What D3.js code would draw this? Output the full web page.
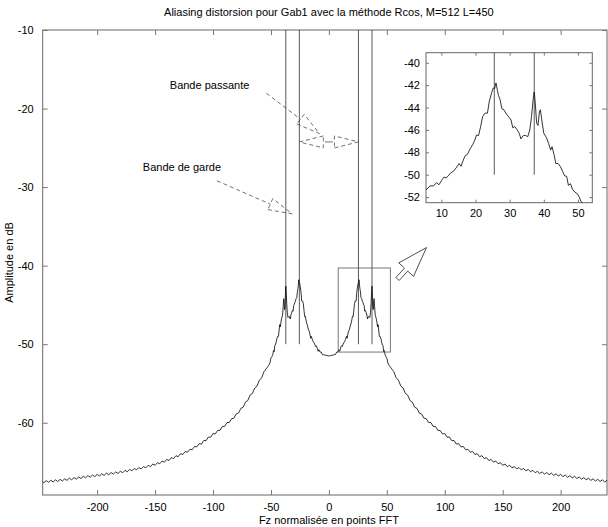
<!DOCTYPE html>
<html>
<head>
<meta charset="utf-8">
<script src="https://cdn.jsdelivr.net/npm/d3@7"></script>
<style>
  body { margin: 0; background: #fff; }
  text { font-family: "Liberation Sans", Arial, sans-serif; }
</style>
</head>
<body>
<svg id="chart" width="608" height="527"></svg>
<script>
// half spectrum (symmetric around 0), core region
let coreFz = [0, 1.5, 3, 4.5, 5.7, 6.7, 7.7, 8.6, 9.3, 10.1, 10.8, 11.4, 12.0, 12.7, 13.5, 14.3,
  15.2, 15.75, 16.4, 17.0, 17.6, 18.4, 19.2, 19.8, 20.3, 20.9, 21.5, 22.1, 22.8, 23.5, 24.0, 24.7,
  25.2, 25.6, 26.0, 26.4, 26.7, 27.2, 27.7, 28.3, 29.1, 29.9, 30.4, 30.9, 31.5, 32.2, 32.8, 33.3,
  34.0, 34.7, 35.3, 35.9, 36.4, 36.9, 37.2, 37.5, 37.9, 38.3, 38.7, 39.0, 39.4, 40.0, 40.8, 41.4,
  42.0, 42.4, 43.0, 43.5, 44.2, 44.9, 45.5, 46.1, 46.7, 47.2, 47.8, 48.4, 49.1, 49.8, 50.4, 50.9,
  52, 53.5, 55]
let coreDb = [-51.5, -51.45, -51.4, -51.35, -51.3, -51.0, -51.0, -50.7, -50.9, -50.5, -50.2, -50.3, -50.1, -49.85, -49.7, -49.4,
  -49.0, -49.25, -48.7, -48.3, -48.2, -47.7, -47.3, -46.9, -46.45, -46.5, -45.7, -44.8, -44.5, -44.5, -43.5, -42.7,
  -42.25, -42.3, -41.8, -42.45, -42.9, -43.3, -44.1, -44.2, -44.6, -44.9, -45.1, -45.8, -45.7, -46.0, -46.3, -46.8,
  -46.5, -46.5, -46.6, -46.0, -44.8, -43.2, -42.6, -43.6, -45.4, -45.6, -44.4, -44.2, -45.1, -46.3, -46.7, -47.2,
  -47.8, -47.5, -48.2, -49.0, -49.0, -49.3, -49.7, -50.1, -50.15, -50.95, -50.8, -51.3, -51.55, -51.7, -52.0, -52.4,
  -52.7, -53.0, -53.3]
// tail, every 2 bins from 56 to 248
let tailFz = d3.range(56, 249, 2)
let tailDb = [-53.48, -54.27, -54.58, -55.32, -55.58, -56.27, -56.48, -57.17, -57.38, -58.02,
  -58.18, -58.77, -58.88, -59.42, -59.48, -59.97, -59.98, -60.47, -60.48, -60.97,
  -60.98, -61.42, -61.38, -61.84, -61.82, -62.28, -62.26, -62.72, -62.66, -63.08,
  -63.02, -63.44, -63.38, -63.76, -63.66, -64.04, -63.94, -64.32, -64.20, -64.56,
  -64.44, -64.80, -64.68, -65.02, -64.88, -65.22, -65.08, -65.42, -65.26, -65.58,
  -65.42, -65.74, -65.58, -65.88, -65.70, -66.00, -65.82, -66.12, -65.94, -66.24,
  -66.06, -66.36, -66.18, -66.46, -66.26, -66.54, -66.34, -66.62, -66.42, -66.70,
  -66.50, -66.78, -66.58, -66.86, -66.66, -66.94, -66.74, -67.02, -66.82, -67.10,
  -66.90, -67.18, -66.98, -67.26, -67.06, -67.34, -67.14, -67.42, -67.21, -67.48,
  -67.27, -67.54, -67.33, -67.59, -67.37, -67.63, -67.41]

let bandLines = [25.5, 37.2]
let xTicks = [-200, -150, -100, -50, 0, 50, 100, 150, 200]
let yTicks = [-10, -20, -30, -40, -50, -60]
let insetXTicks = [10, 20, 30, 40, 50]
let insetYTicks = [-52, -50, -48, -46, -44, -42, -40]
let zoomBox = {x0: 8, x1: 53, y0: -51, y1: -40.3}

let title = "Aliasing distorsion pour Gab1 avec la méthode Rcos, M=512 L=450"
let xLabel = "Fz normalisée en points FFT"
let yLabel = "Amplitude en dB"

let notes = [
  {text: "Bande passante", x: -137.3, y: -17.5},
  {text: "Bande de garde", x: -160.6, y: -28.0}
]
let dashedArrows = [
  {from: [-54.0, -18.05], to: [-8.0, -23.2]},
  {from: [0, -24.25], to: [-25.5, -24.25]},
  {from: [0, -24.25], to: [25.5, -24.25]},
  {from: [-96.6, -29.2], to: [-31.6, -33.4]}
]
let bigArrow = {from: [59.2, -41.7], to: [84.2, -37.7]}

let main = {left: 42.7, right: 607, top: 30, bottom: 495}
let inset = {left: 426, right: 592.3, top: 52.7, bottom: 202.7}

function spectrum() {
  let half = coreFz.map((f, i) => [f, coreDb[i]])
    .concat(tailFz.map((f, i) => [f, tailDb[i]]))
  let neg = half.filter(d => d[0] > 0).map(d => [-d[0], d[1]]).reverse()
  return neg.concat(half)
}

function draw_axes(g, x, y, box, xt, yt, tick, labels) {
  let fmt = d => String(d)
  g.append("rect")
    .attrs({x: box.left, y: box.top, width: box.right - box.left, height: box.bottom - box.top,
      fill: "none", stroke: "#666", "stroke-width": 1})

  let bottom = g.append("g")
    .attr("transform", `translate(0,${box.bottom})`)
    .call(d3.axisBottom(x).tickValues(xt).tickSize(-tick).tickPadding(labels.xpad).tickFormat(fmt))
  let top = g.append("g")
    .attr("transform", `translate(0,${box.top})`)
    .call(d3.axisTop(x).tickValues(xt).tickSize(-tick).tickFormat(""))
  let left = g.append("g")
    .attr("transform", `translate(${box.left},0)`)
    .call(d3.axisLeft(y).tickValues(yt).tickSize(-tick).tickPadding(labels.ypad).tickFormat(fmt))
  let right = g.append("g")
    .attr("transform", `translate(${box.right},0)`)
    .call(d3.axisRight(y).tickValues(yt).tickSize(-tick).tickFormat(""))

  for (let a of [bottom, top, left, right]) {
    a.select(".domain").remove()
    a.selectAll("line").attr("stroke", "#777")
    a.selectAll("text").attrs({"font-size": 11, fill: "#000"})
  }
}

function arrow_head(p0, p1, len) {
  let dx = p1[0] - p0[0], dy = p1[1] - p0[1]
  let n = Math.hypot(dx, dy)
  let u = [dx / n, dy / n], v = [-u[1], u[0]]
  let base = [p1[0] - u[0] * len, p1[1] - u[1] * len]
  return {u, v, base}
}

function draw_main(svg, data) {
  let x = d3.scaleLinear().domain([-247, 240]).range([main.left, main.right])
  let y = d3.scaleLinear().domain([-10, -69.2]).range([main.top, main.bottom])

  svg.append("defs").append("clipPath").attr("id", "clip-main")
    .append("rect")
    .attrs({x: main.left, y: main.top, width: main.right - main.left, height: main.bottom - main.top})

  draw_axes(svg.append("g"), x, y, main, xTicks, yTicks, 5, {xpad: 8, ypad: 9})

  svg.append("path")
    .datum(data)
    .attrs({d: d3.line().x(d => x(d[0])).y(d => y(d[1])), fill: "none", stroke: "#000",
      "stroke-width": 0.8, "clip-path": "url(#clip-main)"})

  let band = bandLines.flatMap(f => [-f, f])
  svg.append("g").selectAll("line")
    .data(band).enter()
    .append("line")
    .attrs({x1: d => x(d), x2: d => x(d), y1: y(-10), y2: y(-50), stroke: "#111", "stroke-width": 0.7})

  svg.append("rect")
    .attrs({x: x(zoomBox.x0), y: y(zoomBox.y1), width: x(zoomBox.x1) - x(zoomBox.x0),
      height: y(zoomBox.y0) - y(zoomBox.y1), fill: "none", stroke: "#555", "stroke-width": 0.8})

  svg.append("g").selectAll("text")
    .data(notes).enter()
    .append("text")
    .attrs({x: d => x(d.x), y: d => y(d.y), "font-size": 11})
    .text(d => d.text)

  let dash = svg.append("g")
    .attrs({fill: "none", stroke: "#333", "stroke-width": 0.7, "stroke-dasharray": "4,3"})
  for (let a of dashedArrows) {
    let p0 = [x(a.from[0]), y(a.from[1])], p1 = [x(a.to[0]), y(a.to[1])]
    let {v, base} = arrow_head(p0, p1, 24)
    let c1 = [base[0] + v[0] * 6, base[1] + v[1] * 6]
    let c2 = [base[0] - v[0] * 6, base[1] - v[1] * 6]
    dash.append("path").attr("d", `M${p0}L${base}M${c1}L${p1}L${c2}Z`)
  }

  let p0 = [x(bigArrow.from[0]), y(bigArrow.from[1])], p1 = [x(bigArrow.to[0]), y(bigArrow.to[1])]
  let {v, base} = arrow_head(p0, p1, 30)
  let off = (p, k) => [p[0] + v[0] * k, p[1] + v[1] * k]
  let pts = [off(p0, 2.2), off(base, 2.2), off(base, 10), p1, off(base, -10), off(base, -2.2), off(p0, -2.2)]
  svg.append("path")
    .attrs({d: "M" + pts.join("L") + "Z", fill: "#fff", stroke: "#222", "stroke-width": 0.8})

  svg.append("text")
    .attrs({x: (main.left + main.right) / 2 + 4, y: 16, "text-anchor": "middle", "font-size": 11})
    .text(title)
  svg.append("text")
    .attrs({x: x(0), y: 524, "text-anchor": "middle", "font-size": 11})
    .text(xLabel)
  svg.append("text")
    .attrs({transform: `translate(13,${(main.top + main.bottom) / 2})rotate(-90)`, "text-anchor": "middle", "font-size": 11})
    .text(yLabel)
}

function draw_inset(svg, data) {
  let x = d3.scaleLinear().domain([5.5, 54.2]).range([inset.left, inset.right])
  let y = d3.scaleLinear().domain([-39.1, -52.5]).range([inset.top, inset.bottom])

  svg.select("defs").append("clipPath").attr("id", "clip-inset")
    .append("rect")
    .attrs({x: inset.left, y: inset.top, width: inset.right - inset.left, height: inset.bottom - inset.top})

  svg.append("rect")
    .attrs({x: inset.left, y: inset.top, width: inset.right - inset.left, height: inset.bottom - inset.top, fill: "#fff"})

  draw_axes(svg.append("g"), x, y, inset, insetXTicks, insetYTicks, 3, {xpad: 7, ypad: 6})

  svg.append("path")
    .datum(data.filter(d => d[0] > 0 && d[0] < 60))
    .attrs({d: d3.line().x(d => x(d[0])).y(d => y(d[1])), fill: "none", stroke: "#000",
      "stroke-width": 0.8, "clip-path": "url(#clip-inset)"})

  svg.append("g").selectAll("line")
    .data(bandLines).enter()
    .append("line")
    .attrs({x1: d => x(d), x2: d => x(d), y1: inset.top, y2: y(-50), stroke: "#111", "stroke-width": 0.7})
}

d3.selection.prototype.attrs = function(m) {
  for (let k in m) this.attr(k, m[k])
  return this
}

let svg = d3.select("#chart")
let data = spectrum()
draw_main(svg, data)
draw_inset(svg, data)
</script>
</body>
</html>
